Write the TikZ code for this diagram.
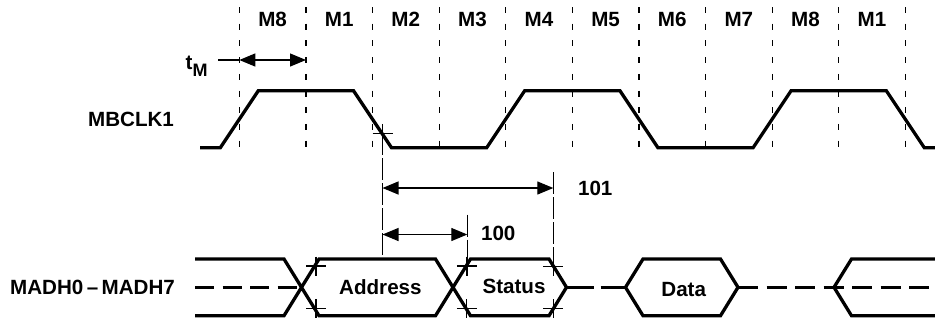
\documentclass[tikz,border=0pt]{standalone}
\usepackage{fontspec}
\setmainfont{Liberation Sans}
\usetikzlibrary{arrows.meta}

\begin{document}
\begin{tikzpicture}[x=0.5pt,y=-0.5pt,
    lbl/.style={font=\fontsize{10.3}{12}\selectfont\bfseries},
    sig/.style={line width=1.65pt},
    gridln/.style={line width=0.6pt,dash pattern=on 3pt off 5.35pt},
    refln/.style={line width=0.6pt,dash pattern=on 11pt off 1.5pt},
    tick/.style={line width=0.6pt},
    dim/.style={line width=0.6pt,{Triangle[length=8pt,width=6.5pt]}-{Triangle[length=8pt,width=6.5pt]}}]
      \useasboundingbox (0,0) rectangle (935,323);
      \foreach \k in {0,...,10} \draw[gridln] (239.3+66.6*\k,7) -- (239.3+66.6*\k,147);
      \foreach \lab [count=\k from 0] in {M8,M1,M2,M3,M4,M5,M6,M7,M8,M1} \node[lbl] (slot\k) at (272.6+66.6*\k,19.5) {\lab};
      \node[lbl,anchor=east] (clk) at (181,119.5) {MBCLK1};
      \node[lbl,anchor=east] (bus) at (182,287) {MADH0\,–\,MADH7};
      \draw[sig] (200,147.7) -- (220.3,147.7) -- (258.3,90.7) -- (353.5,90.7) -- (391.5,147.7) -- (486.7,147.7) -- (524.7,90.7) -- (619.9,90.7) -- (657.9,147.7) -- (753.1,147.7) -- (791.1,90.7) -- (886.3,90.7) -- (924.3,147.7) -- (935,147.7);
      \node[lbl,anchor=base east,inner sep=1pt] (tm) at (210,69) {t\raisebox{-3.5pt}{\fontsize{9}{10}\selectfont M}};
      \coordinate (tmA) at (239.3,60); \coordinate (tmB) at (306,60);
      \draw[dim] (tmA) -- (tmB); \draw[tick] (218,60) -- (tmA);
      \coordinate (edge) at (382.5,133.3); \coordinate (adrT) at (382.5,259);
      \coordinate (a101) at (382.5,188); \coordinate (b101) at (553.3,188);
      \coordinate (a100) at (382.5,234.5); \coordinate (b100) at (467.3,234.5);
      \draw[refln] (edge) -- (adrT);
      \draw[refln] (553.3,172) -- (553.3,276); \draw[refln] (b100) ++(0,-20) -- (467.3,276);
      \draw[dim] (a101) -- (b101); \node[lbl,anchor=west] (l101) at (571,188) {101};
      \draw[dim] (a100) -- (b100); \node[lbl,anchor=west] (l100) at (474,233.5) {100};
      \foreach \x/\y in {382.5/133.3,316/266,316/308.5,466.8/266,466.8/308.5,553.3/266.5,553.3/308.5}
        \draw[tick] (\x-10,\y) -- (\x+10,\y) (\x,\y-9.5) -- (\x,\y+9.5);
      \draw[sig] (195,259) -- (284,259) -- (319,315.7) -- (435.5,315.7) -- (470.5,259) -- (549,259) -- (566.5,287.3) -- (549,315.7) -- (470.5,315.7) -- (435.5,259) -- (319,259) -- (284,315.7) -- (195,315.7);
      \draw[sig,dash pattern=on 9.5pt off 4.25pt] (195,287.3) -- (301.5,287.3);
      \draw[sig,dash pattern=on 13.5pt off 3.5pt] (566.5,287.3) -- (625.5,287.3);
      \draw[sig] (625.5,287.3) -- (643,259) -- (720.5,259) -- (738,287.3) -- (720.5,315.7) -- (643,315.7) -- cycle;
      \draw[sig,dash pattern=on 10pt off 4.25pt] (738,287.3) -- (935,287.3);
      \draw[sig] (935,259) -- (851.5,259) -- (834,287.3) -- (851.5,315.7) -- (935,315.7);
      \node[lbl] (adr) at (380.4,286.7) {Address};
      \node[lbl] (sts) at (514,286.7) {Status};
      \node[lbl] (dat) at (683.7,290) {Data};
    \end{tikzpicture}
\end{document}
